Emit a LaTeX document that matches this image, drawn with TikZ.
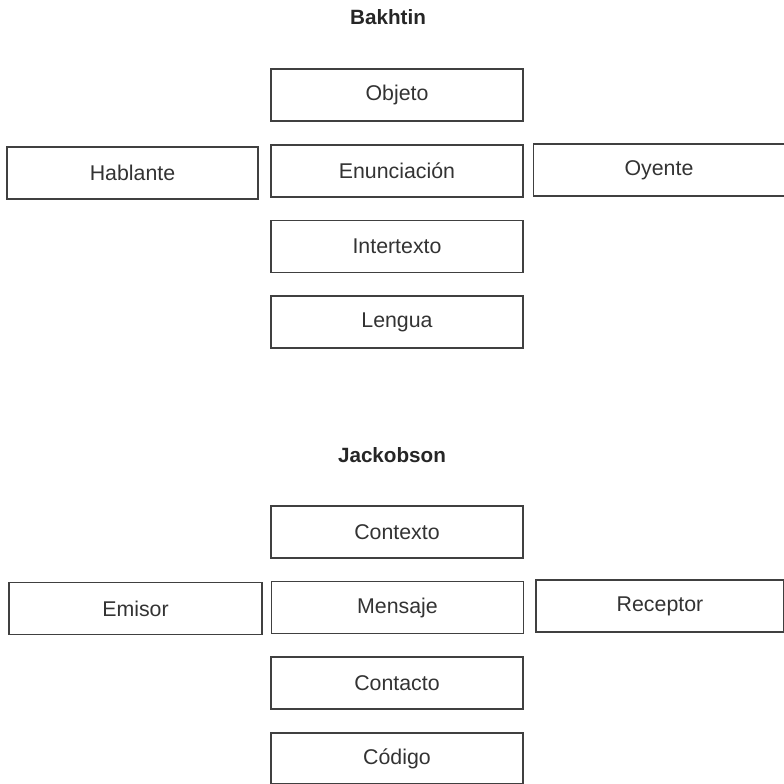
\documentclass[tikz,border=0pt]{standalone}
\usepackage{fontspec}
\setmainfont{Liberation Sans}
\tikzset{
    caja/.style={draw=black!75, line width=1.1pt, inner sep=0pt, outer sep=0pt,
        minimum width=189pt, minimum height=39pt, text=black!80,
        font=\fontsize{16}{19}\selectfont},
    titulo/.style={text=black!85, font=\fontsize{15.5}{18}\selectfont\bfseries}
}
\begin{document}
\begin{tikzpicture}[x=0.75pt, y=-0.75pt]
            \useasboundingbox[fill=white] (0, 0) rectangle (784, 783);
            % Bakhtin
            \node[titulo] (bakhtin) at (388, 17) {Bakhtin};
            \node[caja] (objeto) at (397, 95) {Objeto};
            \node[caja, minimum width=188pt] (hablante) at (132.5, 173) {Hablante};
            \node[caja] (enunciacion) at (397, 171) {Enunciación};
            \node[caja, minimum width=188pt] (oyente) at (659, 170) {Oyente};
            \node[caja] (intertexto) at (397, 246.5) {Intertexto};
            \node[caja] (lengua) at (397, 322) {Lengua};

            % Jackobson
            \node[titulo] (jackobson) at (392, 455) {Jackobson};
            \node[caja] (contexto) at (397, 532) {Contexto};
            \node[caja, minimum width=190pt] (emisor) at (135.5, 608.5) {Emisor};
            \node[caja] (mensaje) at (397.5, 607.5) {Mensaje};
            \node[caja, minimum width=186pt] (receptor) at (660, 606) {Receptor};
            \node[caja] (contacto) at (397, 683) {Contacto};
            \node[caja, minimum height=38pt] (codigo) at (397, 758.5) {Código};
\end{tikzpicture}
\end{document}
